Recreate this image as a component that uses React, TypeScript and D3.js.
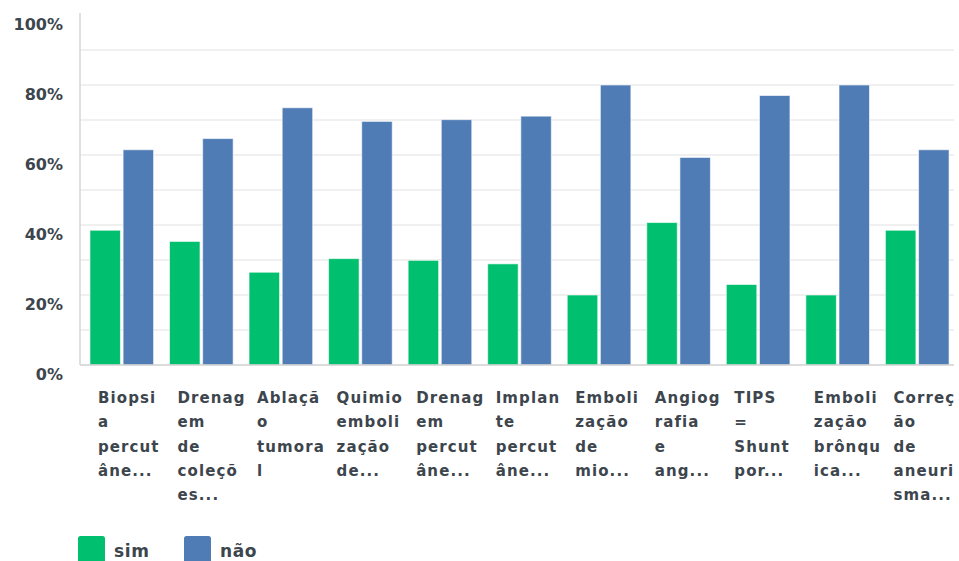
import React from "react";
import * as d3 from "d3";

// Wrapped category labels, one entry per line as displayed under each group
const categories: string[][] = [
  ["Biopsi", "a", "percut", "âne..."],
  ["Drenag", "em", "de", "coleçõ", "es..."],
  ["Ablaçã", "o", "tumora", "l"],
  ["Quimio", "emboli", "zação", "de..."],
  ["Drenag", "em", "percut", "âne..."],
  ["Implan", "te", "percut", "âne..."],
  ["Emboli", "zação", "de", "mio..."],
  ["Angiog", "rafia", "e", "ang..."],
  ["TIPS", "=", "Shunt", "por..."],
  ["Emboli", "zação", "brônqu", "ica..."],
  ["Correç", "ão", "de", "aneuri", "sma..."],
];

const simValues = [38.5, 35.3, 26.5, 30.4, 29.9, 28.9, 20.0, 40.7, 23.0, 20.0, 38.5];
const naoValues = [61.5, 64.7, 73.5, 69.6, 70.1, 71.1, 80.0, 59.3, 77.0, 80.0, 61.5];

const seriesNames = ["sim", "não"];
const seriesColors = ["#00bf6f", "#507cb6"];
const yTicks = [0, 20, 40, 60, 80, 100];
const gridTicks = [10, 20, 30, 40, 50, 60, 70, 80, 90];

const W = 959;
const H = 561;
const left = 80;
const right = 954;
const top = 15;
const bottom = 365;

export default function App() {
  const ids = categories.map((_, i) => String(i));
  const x0 = d3.scaleBand<string>().domain(ids).range([82, 957]).paddingInner(0.2).paddingOuter(0.1);
  const x1 = d3.scaleBand<string>().domain(seriesNames).range([0, x0.bandwidth()]).paddingInner(0.08);
  const y = d3.scaleLinear().domain([0, 100]).range([bottom, top]);
  const series = [simValues, naoValues];

  const textColor = "#3d454d";
  const font = "'DejaVu Sans', sans-serif";

  return (
    <svg
      width={W}
      height={H}
      style={{ position: "absolute", left: 0, top: 0, background: "#fff", display: "block" }}
    >
      {/* horizontal grid */}
      {gridTicks.map((t) => (
        <line key={t} x1={left} x2={right} y1={y(t)} y2={y(t)} stroke="#ebebeb" strokeWidth={1.5} />
      ))}
      {/* y axis line */}
      <line x1={left} x2={left} y1={13} y2={bottom} stroke="#d6d6d6" strokeWidth={1.5} />

      {/* bars */}
      {ids.map((id, i) => (
        <g key={id} transform={`translate(${x0(id)},0)`}>
          {series.map((vals, s) => (
            <rect
              key={s}
              x={x1(seriesNames[s])}
              y={y(vals[i])}
              width={x1.bandwidth()}
              height={bottom - y(vals[i])}
              fill={seriesColors[s]}
              stroke="#ffffff"
              strokeOpacity={0.6}
              strokeWidth={1}
            />
          ))}
        </g>
      ))}

      {/* baseline */}
      <line x1={left} x2={right} y1={bottom} y2={bottom} stroke="#d0d0d0" strokeWidth={1.5} />

      {/* y tick labels */}
      {yTicks.map((t) => (
        <text
          key={t}
          x={63}
          y={y(t) + 14.5}
          textAnchor="end"
          fontFamily={font}
          fontWeight="bold"
          fontSize={16}
          fill={textColor}
        >
          {t}%
        </text>
      ))}

      {/* category labels */}
      {categories.map((lines, i) => (
        <text
          key={i}
          x={(x0(String(i)) as number) + 8}
          y={403}
          fontFamily={font}
          fontWeight="bold"
          fontSize={15}
          letterSpacing={1.1}
          fill={textColor}
        >
          {lines.map((ln, j) => (
            <tspan key={j} x={(x0(String(i)) as number) + 8} y={403 + j * 24.3}>
              {ln}
            </tspan>
          ))}
        </text>
      ))}

      {/* legend */}
      {seriesNames.map((name, s) => (
        <g key={name} transform={`translate(${78 + s * 106},536)`}>
          <rect width={27} height={30} rx={2.5} fill={seriesColors[s]} />
          <text x={36} y={21} fontFamily={font} fontWeight="bold" fontSize={17} letterSpacing={0.6} fill={textColor}>
            {name}
          </text>
        </g>
      ))}
    </svg>
  );
}
